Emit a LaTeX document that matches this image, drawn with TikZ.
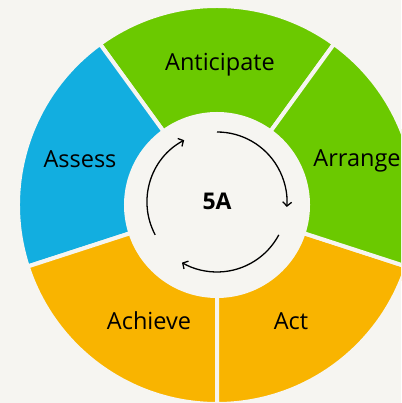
\documentclass[tikz,border=0pt]{standalone}
\usepackage{fontspec}
\setmainfont{Open Sans}
\usetikzlibrary{arrows.meta}
\definecolor{bgpaper}{RGB}{246,245,241}
\definecolor{leafgreen}{RGB}{107,201,0}
\definecolor{skyblue}{RGB}{18,174,224}
\definecolor{sunorange}{RGB}{249,180,0}
\tikzset{
    ring/.style={draw=bgpaper, line width=4pt},
    label/.style={anchor=base, font=\fontsize{23.5}{26}\selectfont},
    cycle arrow/.style={line width=1.3pt, -{Straight Barb[length=4pt,width=9pt]}}
}
\begin{document}
\begin{tikzpicture}[x=1pt,y=1pt]
        \useasboundingbox (0,0) rectangle (401,403);
        \clip (0,0) rectangle (401,403);
        \fill[bgpaper] (0,0) rectangle (401,403);
        \coordinate (O) at (217,198);
        % The five ring segments.
            \filldraw[ring, fill=leafgreen] ([shift={(54:199)}]O) arc[start angle=54, end angle=126, radius=199] -- ([shift={(126:91)}]O) arc[start angle=126, end angle=54, radius=91] -- cycle;
            \filldraw[ring, fill=skyblue] ([shift={(126:199)}]O) arc[start angle=126, end angle=198, radius=199] -- ([shift={(198:91)}]O) arc[start angle=198, end angle=126, radius=91] -- cycle;
            \filldraw[ring, fill=sunorange] ([shift={(198:199)}]O) arc[start angle=198, end angle=270, radius=199] -- ([shift={(270:91)}]O) arc[start angle=270, end angle=198, radius=91] -- cycle;
            \filldraw[ring, fill=sunorange] ([shift={(270:199)}]O) arc[start angle=270, end angle=342, radius=199] -- ([shift={(342:91)}]O) arc[start angle=342, end angle=270, radius=91] -- cycle;
            \filldraw[ring, fill=leafgreen] ([shift={(-18:199)}]O) arc[start angle=-18, end angle=54, radius=199] -- ([shift={(54:91)}]O) arc[start angle=54, end angle=-18, radius=91] -- cycle;
            \fill[bgpaper] (O) circle[radius=91];
        % Below nodes are the labels.
            \node[label] (anticipate) at (220,332) {Anticipate};
            \node[label] (arrange) at (357,236) {Arrange};
            \node[label] (act) at (291,73) {Act};
            \node[label] (achieve) at (149,73) {Achieve};
            \node[label] (assess) at (80,235) {Assess};
            \node[anchor=base, font=\bfseries\fontsize{23}{26}\selectfont] (fiveA) at (217,193) {5A};
        % This draws the cycle arrows.
            \coordinate (C) at (217,201);
            \draw[cycle arrow] ([shift={(90:70)}]C) arc[start angle=90, end angle=-4, radius=70];
            \draw[cycle arrow] ([shift={(-28:70)}]C) arc[start angle=-28, end angle=-120, radius=70];
            \draw[cycle arrow] ([shift={(208:70)}]C) arc[start angle=208, end angle=118, radius=70];
    \end{tikzpicture}
\end{document}
